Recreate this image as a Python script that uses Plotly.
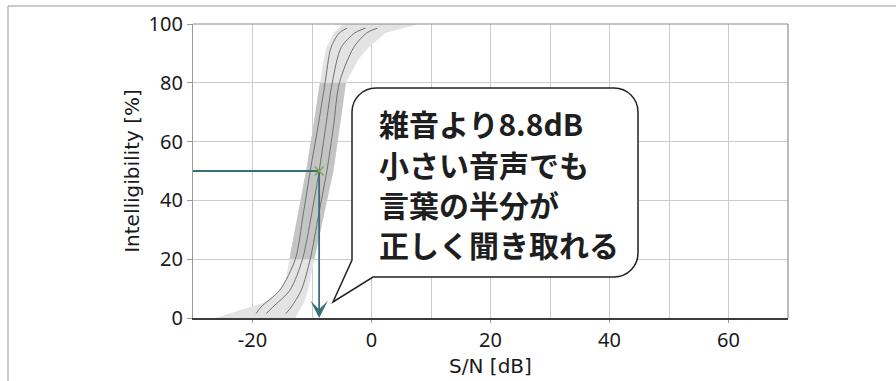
import plotly.graph_objects as go

# Speech intelligibility vs. signal-to-noise ratio
# Three psychometric curves (percent correct at given S/N)
line_pct = [1.5, 3.7, 9.5, 20, 35, 50, 65, 80, 92, 97, 98.6]
line_lo = [-19.4, -18.6, -15.4, -12.8, -11.5, -10.3, -9.0, -7.8, -6.8, -5.4, -4.1]
line_mid = [-17.7, -16.6, -13.7, -11.6, -10.1, -8.8, -7.7, -6.6, -5.1, -2.8, -1.0]
line_hi = [-14.4, -13.5, -11.8, -10.3, -8.9, -7.5, -6.4, -5.4, -3.0, -0.8, 1.0]

# Spread band around the curves
band_pct = [0, 2.7, 5.4, 8.5, 13, 20, 35, 50, 65, 80, 88, 92, 97, 100]
band_left = [-26.2, -21.9, -17.9, -15.7, -14.4, -13.8, -12.4, -11.0, -9.8, -8.7, -8.0, -7.6, -6.3, -4.8]
band_right = [-12.8, -12.0, -11.3, -10.8, -10.4, -9.6, -8.0, -6.4, -5.3, -4.3, -2.2, -0.5, 2.4, 8.0]
core_range = (20, 80)

# Speech reception threshold (50 % intelligibility)
srt_db = -8.8
srt_pct = 50

x_range = [-30, 70]
y_range = [0, 100]
x_tick_vals = [-20, 0, 20, 40, 60]
x_tick_text = ["-20", "0", "20", "40", "60"]
x_grid_step = 10
y_tick_step = 20

callout_lines = ["雑音より8.8dB", "小さい音声でも", "言葉の半分が", "正しく聞き取れる"]

teal = "#356f78"
tick_font = dict(family="Noto Sans", size=20, color="#1a1a1a")
title_font = dict(family="DejaVu Sans", size=20, color="#1a1a1a")

fig = go.Figure()

# light outer band
fig.add_trace(go.Scatter(
    x=band_left + band_right[::-1], y=band_pct + band_pct[::-1],
    fill="toself", fillcolor="#e3e3e3", mode="lines", line=dict(width=0),
    hoverinfo="skip"))

# darker core band between 20 % and 80 %
core_idx = [i for i, p in enumerate(band_pct) if core_range[0] <= p <= core_range[1]]
core_y = [band_pct[i] for i in core_idx]
fig.add_trace(go.Scatter(
    x=[band_left[i] for i in core_idx] + [band_right[i] for i in core_idx][::-1],
    y=core_y + core_y[::-1],
    fill="toself", fillcolor="#c4c4c4", mode="lines", line=dict(width=0),
    hoverinfo="skip"))

for xs in (line_lo, line_mid, line_hi):
    fig.add_trace(go.Scatter(
        x=xs, y=line_pct, mode="lines",
        line=dict(color="#707070", width=1, shape="spline", smoothing=0.8),
        hoverinfo="skip"))

# horizontal guide from the y axis to the threshold
fig.add_trace(go.Scatter(
    x=[x_range[0], srt_db], y=[srt_pct, srt_pct], mode="lines",
    line=dict(color=teal, width=1.8), hoverinfo="skip"))

# threshold marker
fig.add_trace(go.Scatter(
    x=[srt_db], y=[srt_pct], mode="markers",
    marker=dict(symbol="x-thin", size=9, line=dict(color="#7fa84a", width=1.5)),
    hoverinfo="skip"))

# vertical arrow down to the S/N axis
fig.add_annotation(
    x=srt_db, y=y_range[0], ax=srt_db, ay=srt_pct, xref="x", yref="y",
    axref="x", ayref="y", showarrow=True, arrowhead=3, arrowsize=1.6,
    arrowwidth=1.8, arrowcolor=teal, standoff=0, text="")

# speech-bubble callout (pixel path anchored at the plot's lower-left corner)
bubble = ("M 183,230 L 421,230 C 434.3,230 445,219.3 445,206 L 445,65 "
          "C 445,51.7 434.3,41 421,41 L 180,41 L 140,16 L 159,58 L 159,206 "
          "C 159,219.3 169.7,230 183,230 Z")
fig.add_shape(type="path", path=bubble, xref="paper", yref="paper",
              xsizemode="pixel", ysizemode="pixel", xanchor=0, yanchor=0,
              line=dict(color="#222222", width=1.5), fillcolor="white", layer="above")

line_y = [0.6616, 0.5245, 0.3874, 0.2503]
for txt, yy in zip(callout_lines, line_y):
    fig.add_annotation(
        x=0.3092, y=yy, xref="paper", yref="paper", xanchor="left", yanchor="middle",
        text=txt, showarrow=False,
        font=dict(family="Noto Sans CJK JP", size=30, weight="bold", color="#1e1e1e"))

# plot frame (top and right) and outer page frame
fig.add_shape(type="line", xref="paper", yref="paper", x0=0, x1=1, y0=1, y1=1,
              line=dict(color="#8c8c8c", width=1.2))
fig.add_shape(type="line", xref="paper", yref="paper", x0=1, x1=1, y0=0, y1=1,
              line=dict(color="#8c8c8c", width=1.2))
fig.add_shape(type="line", xref="paper", yref="paper", x0=-0.3109, x1=1.2, y0=1.0612, y1=1.0612,
              line=dict(color="#9a9a9a", width=1))
fig.add_shape(type="line", xref="paper", yref="paper", x0=-0.3109, x1=-0.3109, y0=-0.3, y1=1.0612,
              line=dict(color="#9a9a9a", width=1))

fig.update_layout(
    width=896, height=381,
    margin=dict(l=193, r=108, t=24, b=63, autoexpand=False),
    paper_bgcolor="white", plot_bgcolor="white",
    showlegend=False,
    xaxis=dict(
        range=x_range, tickmode="array", tickvals=x_tick_vals, ticktext=x_tick_text,
        showgrid=True, gridcolor="#cccccc", gridwidth=1,
        minor=dict(dtick=x_grid_step, tick0=0, showgrid=True, gridcolor="#cccccc", gridwidth=1),
        zeroline=False, showline=True, linecolor="#3c3c3c", linewidth=1.5,
        ticks="outside", ticklen=3, tickcolor="#999999",
        tickfont=tick_font, automargin=False,
        title=dict(text="S/N [dB]", font=title_font, standoff=7),
        fixedrange=True),
    yaxis=dict(
        range=y_range, dtick=y_tick_step,
        showgrid=True, gridcolor="#cccccc", gridwidth=1,
        zeroline=False, showline=True, linecolor="#9a9a9a", linewidth=1.2,
        ticks="outside", ticklen=5, tickcolor="#999999",
        tickfont=tick_font, automargin=False,
        title=dict(text="Intelligibility [%]", font=title_font, standoff=3),
        fixedrange=True),
)

fig.write_html("out.html")
